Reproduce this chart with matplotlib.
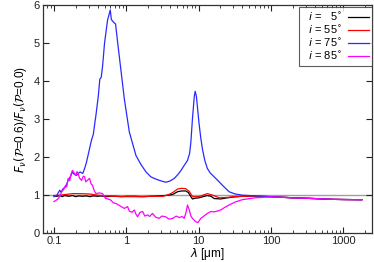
import matplotlib
matplotlib.use("Agg")
import matplotlib.pyplot as plt
from matplotlib.ticker import LogLocator, NullFormatter, FixedLocator

plt.rcParams['font.family'] = ['Liberation Sans', 'DejaVu Sans']
plt.rcParams['mathtext.fontset'] = 'dejavusans'

# i = 5 deg
wl_05 = [0.10, 0.11, 0.12, 0.13, 0.14, 0.15, 0.16, 0.18, 0.20, 0.22, 0.25, 0.28, 0.31,
         0.35, 0.40, 0.45, 0.52, 0.6, 0.7, 0.85, 1.0, 1.3, 1.7, 2.2, 2.8, 3.4, 3.9, 4.4,
         5.1, 5.8, 6.6, 7.2, 7.8, 8.2, 9.0, 10.1, 11.5, 13.2, 14.8, 16.4, 20.2, 25,
         30, 40, 60, 100, 200, 400, 700, 1000, 1800]
fr_05 = [0.98, 0.97, 0.99, 0.96, 0.99, 0.98, 0.97, 0.99, 0.96, 0.98, 0.97, 0.98, 0.96,
         0.98, 0.97, 0.98, 0.96, 0.97, 0.97, 0.96, 0.97, 0.97, 0.96, 0.97, 0.98, 0.99, 1.0, 1.02,
         1.09, 1.11, 1.11, 1.07, 0.96, 0.90, 0.92, 0.93, 0.96, 0.99, 0.97, 0.91, 0.90, 0.93,
         0.95, 0.97, 0.97, 0.96, 0.93, 0.91, 0.89, 0.885, 0.88]

# i = 55 deg
wl_55 = [0.10, 0.12, 0.15, 0.18, 0.22, 0.31, 0.40, 0.52, 0.7, 1.0, 1.5, 2.2, 3.2,
         3.8, 4.4, 5.1, 5.8, 6.6, 7.4, 8.2, 9.0, 10.1, 11.5, 13.2, 15.6, 19.2, 25,
         30, 40, 60, 100, 200, 400, 700, 1000, 1800]
fr_55 = [0.99, 1.0, 1.02, 1.04, 1.04, 1.03, 1.0, 0.98, 0.97, 0.96, 0.96, 0.97, 0.97,
         1.01, 1.07, 1.16, 1.18, 1.17, 1.10, 0.96, 0.96, 0.96, 1.0, 1.04, 1.0, 0.93, 0.94,
         0.96, 0.97, 0.97, 0.96, 0.93, 0.91, 0.89, 0.885, 0.88]

# i = 75 deg
wl_75 = [0.10, 0.11, 0.12, 0.125, 0.134, 0.145, 0.157, 0.17, 0.18, 0.19, 0.205, 0.22,
         0.23, 0.25, 0.265, 0.28, 0.295, 0.31, 0.33, 0.35, 0.37, 0.38, 0.41, 0.43, 0.45,
         0.47, 0.50, 0.55, 0.60, 0.62, 0.65, 0.68, 0.71, 0.76, 0.85, 0.94, 1.1, 1.36,
         1.6, 1.87, 2.19, 2.5, 2.85, 3.2, 3.53, 4.0, 4.6, 5.2, 5.7, 6.3, 7.0, 7.5, 7.8,
         8.2, 8.7, 8.95, 9.3, 10.1, 10.7, 11.3, 12.2, 13.2, 14.5, 16.4, 18.5, 21.3, 26.3,
         32, 40, 60, 100, 200, 400, 700, 1000, 1800]
fr_75 = [0.96, 1.0, 1.13, 1.08, 1.17, 1.22, 1.39, 1.50, 1.61, 1.55, 1.52, 1.58,
         1.61, 1.57, 1.70, 1.85, 2.04, 2.22, 2.45, 2.6, 2.95, 3.1, 3.61, 4.05, 4.1,
         4.4, 5.0, 5.6, 5.87, 5.62, 5.57, 5.53, 5.5, 5.0, 4.22, 3.52, 2.66, 2.04,
         1.8, 1.61, 1.48, 1.43, 1.39, 1.36, 1.34, 1.37, 1.44, 1.55, 1.65, 1.78, 1.91, 2.1, 2.39,
         3.0, 3.6, 3.73, 3.6, 2.9, 2.5, 2.2, 1.9, 1.7, 1.58, 1.48, 1.38, 1.26, 1.09,
         1.03, 1.0, 0.98, 0.96, 0.93, 0.91, 0.89, 0.885, 0.88]

# i = 85 deg
wl_85 = [0.10, 0.108, 0.115, 0.122, 0.128, 0.136, 0.145, 0.15, 0.157, 0.165, 0.172, 0.18,
         0.19, 0.2, 0.208, 0.215, 0.225, 0.24, 0.255, 0.265, 0.275, 0.29, 0.31, 0.325,
         0.34, 0.36, 0.38, 0.42, 0.47, 0.5, 0.52, 0.56, 0.61, 0.66, 0.72, 0.78, 0.85,
         0.94, 1.04, 1.1, 1.2, 1.29, 1.36, 1.43, 1.55, 1.68, 1.8, 1.97, 2.1, 2.3, 2.55,
         2.85, 3.1, 3.5, 3.9, 4.4, 4.9, 5.4, 5.9, 6.3, 6.7, 7.0, 7.4, 7.8, 8.2, 9.1, 9.8,
         10.7, 12, 13.2, 14.8, 16.4, 18, 20.2, 23, 26.3, 32, 40, 60, 100, 200, 400, 700,
         1000, 1800]
fr_85 = [0.83, 0.87, 0.91, 1.0, 1.09, 1.15, 1.26, 1.22, 1.44, 1.38, 1.55, 1.65,
         1.58, 1.52, 1.62, 1.57, 1.45, 1.39, 1.5, 1.48, 1.35, 1.39, 1.44, 1.3,
         1.26, 1.12, 1.04, 1.06, 1.04, 0.95, 0.91, 0.9, 0.87, 0.8, 0.78, 0.74, 0.70,
         0.65, 0.70, 0.58, 0.55, 0.61, 0.50, 0.43, 0.55, 0.57, 0.45, 0.48, 0.44, 0.52, 0.42,
         0.39, 0.45, 0.43, 0.37, 0.39, 0.45, 0.41, 0.44, 0.39, 0.55, 0.74, 0.62, 0.45, 0.39, 0.30, 0.28,
         0.39, 0.46, 0.52, 0.57, 0.56, 0.58, 0.61, 0.68, 0.74, 0.82, 0.88, 0.93, 0.955, 0.93, 0.91, 0.89,
         0.885, 0.88]

labels = ['  $i$ = \u20075$^{\\circ}$', '  $i$ = 55$^{\\circ}$',
          '  $i$ = 75$^{\\circ}$', '  $i$ = 85$^{\\circ}$']
colors = ['black', 'red', '#2a2aff', '#ff00ff']

fig = plt.figure(figsize=(3.74, 2.62), dpi=100)
ax = fig.add_axes([0.115, 0.11, 0.88, 0.871])

ax.axhline(1.0, color='#a0a0a0', lw=1.0, zorder=1)
for wl, fr, lab, col in zip([wl_05, wl_55, wl_75, wl_85], [fr_05, fr_55, fr_75, fr_85], labels, colors):
    ax.plot(wl, fr, color=col, lw=0.9, label=lab)

ax.set_xscale('log')
ax.set_xlim(0.0705, 2500)
ax.set_ylim(0, 6)
ax.xaxis.set_major_locator(FixedLocator([0.1, 1, 10, 100, 1000]))
ax.set_xticklabels(['0.1', '1', '10', '100', '1000'])
ax.xaxis.set_minor_locator(LogLocator(base=10, subs=range(2, 10)))
ax.xaxis.set_minor_formatter(NullFormatter())
ax.set_yticks(range(0, 7))
ax.tick_params(which='both', direction='in', top=True, right=True, labelsize=8, colors='#222222')
ax.tick_params(which='major', length=4, width=0.8, pad=2.5)
ax.tick_params(axis='x', which='major', pad=2)
ax.tick_params(which='minor', length=2, width=0.6)
for sp in ax.spines.values():
    sp.set_color('#333333')
    sp.set_linewidth(0.9)

ax.set_xlabel(r'$\lambda$ [μm]', fontsize=8.5, labelpad=0)
ax.set_ylabel(r'$F_\nu(\mathcal{P}$=0.6)/$F_\nu(\mathcal{P}$=0.0)', fontsize=8.5, labelpad=3)

leg = ax.legend(loc='upper right', bbox_to_anchor=(1.0, 0.99), fontsize=8, markerfirst=False,
                handlelength=1.9, frameon=True, fancybox=False, borderaxespad=0.0,
                labelspacing=0.1, handletextpad=0.5, borderpad=0.3)
leg.get_frame().set_edgecolor('#333333')
leg.get_frame().set_linewidth(0.8)

fig.savefig('out.png', dpi=100)
